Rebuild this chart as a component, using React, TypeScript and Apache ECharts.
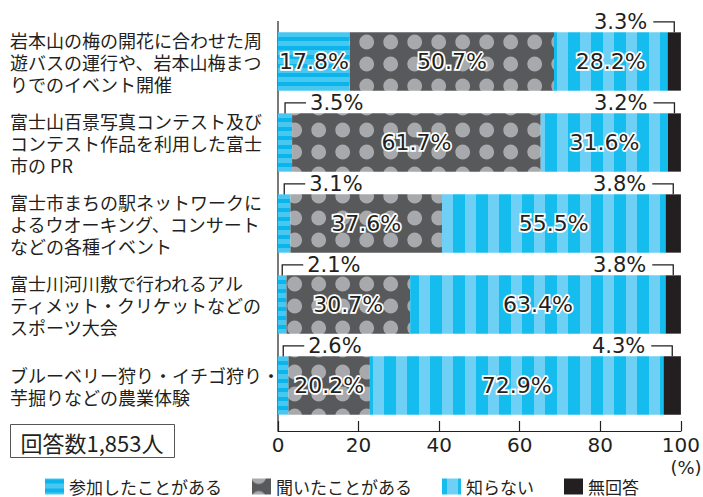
import React, { useEffect, useRef } from "react";
import * as echarts from "echarts";

const categories = [
  "岩本山の梅の開花に合わせた周\n遊バスの運行や、岩本山梅まつ\nりでのイベント開催",
  "富士山百景写真コンテスト及び\nコンテスト作品を利用した富士\n市の PR",
  "富士市まちの駅ネットワークに\nよるウオーキング、コンサート\nなどの各種イベント",
  "富士川河川敷で行われるアル\nティメット・クリケットなどの\nスポーツ大会",
  "ブルーベリー狩り・イチゴ狩り・\n芋掘りなどの農業体験",
];
const participated = [17.8, 3.5, 3.1, 2.1, 2.6];
const heard = [50.7, 61.7, 37.6, 30.7, 20.2];
const unaware = [28.2, 31.6, 55.5, 63.4, 72.9];
const noAnswer = [3.3, 3.2, 3.8, 3.8, 4.3];
const seriesNames = ["参加したことがある", "聞いたことがある", "知らない", "無回答"];
const xMin = 0;
const xMax = 100;
const xInterval = 20;
const respondentsLabel = "回答数1,853人";
const unitLabel = "(%)";

const INK = "#231f20";
const JP = "'Noto Sans CJK JP', 'Noto Sans', sans-serif";
const NUM = "'DejaVu Sans', sans-serif";

function makeCanvas(w: number, h: number, draw: (ctx: CanvasRenderingContext2D) => void) {
  const c = document.createElement("canvas");
  c.width = w;
  c.height = h;
  const ctx = c.getContext("2d")!;
  draw(ctx);
  return c;
}

function hStripes() {
  return makeCanvas(8, 9, (ctx) => {
    ctx.fillStyle = "#0bb5eb";
    ctx.fillRect(0, 0, 8, 9);
    ctx.fillStyle = "#48c7f1";
    for (let y = 0; y < 9; y++) {
      if (((y - 5 + 9) % 9) < 5) ctx.fillRect(0, y, 8, 1);
    }
  });
}

function vStripes() {
  return makeCanvas(23, 8, (ctx) => {
    ctx.fillStyle = "#14bdee";
    ctx.fillRect(0, 0, 23, 8);
    ctx.fillStyle = "#6fd0f5";
    ctx.fillRect(5, 0, 11, 8);
  });
}

function dots() {
  return makeCanvas(24, 22, (ctx) => {
    ctx.fillStyle = "#58595b";
    ctx.fillRect(0, 0, 24, 22);
    ctx.fillStyle = "#a7a9ac";
    const cx = 6.7, cy = 20;
    for (const dx of [0, 24, -24]) {
      for (const dy of [0, -22, 22]) {
        ctx.beginPath();
        ctx.arc(cx + dx, cy + dy, 7.4, 0, Math.PI * 2);
        ctx.fill();
      }
    }
  });
}

export default function App() {
  const ref = useRef<HTMLDivElement>(null);
  useEffect(() => {
    if (!ref.current) return;
    const chart = echarts.init(ref.current, null, { renderer: "svg" });

    const fills: any[] = [
      { image: hStripes(), repeat: "repeat" },
      { image: dots(), repeat: "repeat" },
      { image: vStripes(), repeat: "repeat" },
      INK,
    ];
    const values = [participated, heard, unaware, noAnswer];

    const calloutData: number[][] = [];
    categories.forEach((_, i) => {
      if (participated[i] < 10) calloutData.push([i, 0, participated[i], 0, participated[i]]);
      const start = 100 - noAnswer[i];
      calloutData.push([i, start, start + noAnswer[i], 1, noAnswer[i]]);
    });

    const barSeries = values.map((arr, si) => ({
      name: seriesNames[si],
      type: "bar",
      stack: "total",
      barWidth: "72%",
      data: arr,
      itemStyle: { color: fills[si] },
      label: {
        show: si < 3,
        position: "inside",
        formatter: (p: any) => (p.value >= 10 ? p.value.toFixed(1) + "%" : ""),
        fontSize: 22,
        fontFamily: NUM,
        color: INK,
        textBorderColor: "#ffffff",
        textBorderWidth: 3.5,
      },
      emphasis: { disabled: true },
    }));

    const option: any = {
      animation: false,
      grid: { left: 278, top: 21, width: 406, height: 405 },
      legend: {
        data: seriesNames,
        left: 45,
        top: 478,
        itemWidth: 19,
        itemHeight: 16,
        itemGap: 30,
        padding: 0,
        icon: "rect",
        textStyle: { fontSize: 17, lineHeight: 17, fontFamily: JP, color: INK },
        selectedMode: false,
      },
      xAxis: {
        type: "value",
        min: xMin,
        max: xMax,
        interval: xInterval,
        offset: 5,
        axisLine: { show: true, lineStyle: { color: INK, width: 1.2 } },
        axisTick: { show: true, inside: true, length: 10, lineStyle: { color: INK, width: 1.2 } },
        axisLabel: { fontSize: 20, fontFamily: NUM, color: INK, margin: 4 },
        splitLine: { show: false },
      },
      yAxis: {
        type: "category",
        inverse: true,
        data: categories,
        axisLine: { show: false },
        axisTick: { show: false },
        axisLabel: {
          align: "left",
          margin: 268,
          fontSize: 18,
          lineHeight: 22,
          padding: [6, 0, 0, 0],
          fontFamily: JP,
          color: INK,
        },
      },
      series: [
        ...barSeries,
        {
          type: "custom",
          name: "callouts",
          clip: false,
          silent: true,
          data: calloutData,
          encode: { x: [1, 2], y: 0 },
          renderItem: (_params: any, api: any) => {
            const cat = api.value(0);
            const s = api.value(1);
            const e = api.value(2);
            const side = api.value(3);
            const v = api.value(4);
            const c = api.coord([(s + e) / 2, cat]);
            const band = api.size([0, 1])[1];
            const top = c[1] - (band * 0.72) / 2;
            const ly = top - 10.5;
            const dir = side === 0 ? 1 : -1;
            const hx = c[0] + dir * 21;
            return {
              type: "group",
              children: [
                {
                  type: "polyline",
                  shape: { points: [[c[0], top + (side === 0 ? 10 : 0)], [c[0], ly], [hx, ly]] },
                  style: { stroke: INK, lineWidth: 1.3, fill: null },
                },
                {
                  type: "text",
                  style: {
                    text: v.toFixed(1) + "%",
                    x: hx + (side === 0 ? 4 : -6),
                    y: ly,
                    align: side === 0 ? "left" : "right",
                    verticalAlign: "middle",
                    fontSize: 21,
                    fontFamily: NUM,
                    fill: INK,
                  },
                },
              ],
            };
          },
        },
      ],
      graphic: [
        {
          type: "line",
          shape: { x1: 278, y1: 21, x2: 278, y2: 431 },
          style: { stroke: INK, lineWidth: 1.2 },
        },
        {
          type: "text",
          style: {
            text: unitLabel,
            x: 686,
            y: 467,
            align: "center",
            verticalAlign: "middle",
            fontSize: 18,
            fontFamily: NUM,
            fill: INK,
          },
        },
        {
          type: "rect",
          shape: { x: 10.5, y: 424.5, width: 164, height: 33 },
          style: { fill: "#fff", stroke: "#555", lineWidth: 1 },
        },
        {
          type: "text",
          style: {
            text: respondentsLabel,
            x: 92,
            y: 442,
            align: "center",
            verticalAlign: "middle",
            fontSize: 22,
            fontFamily: JP,
            fill: INK,
          },
        },
      ],
    };
    chart.setOption(option);
    return () => chart.dispose();
  }, []);

  return (
    <div
      ref={ref}
      style={{ position: "fixed", left: 0, top: 0, width: 703, height: 497, background: "#fff" }}
    />
  );
}
